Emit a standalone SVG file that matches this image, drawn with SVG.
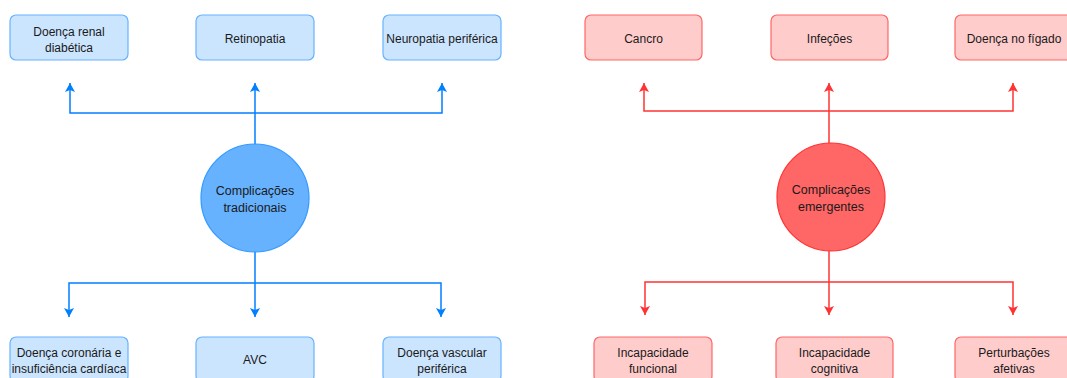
<svg xmlns="http://www.w3.org/2000/svg" width="1067" height="378" viewBox="0 0 1067 378">
<defs>
<style>
.bbox{fill:#cce5ff;stroke:#66b2ff;stroke-width:1.2}
.rbox{fill:#ffcccc;stroke:#ff6666;stroke-width:1.2}
.bc{fill:#66b2ff;stroke:#3399ff;stroke-width:1.2}
.rc{fill:#ff6666;stroke:#ff3333;stroke-width:1.2}
text{font-family:"Liberation Sans",Arial,sans-serif;font-size:12px;fill:#1a1a1a;text-anchor:middle}
.ct{font-size:12.5px}
.bl{fill:none;stroke:#007fff;stroke-width:1.5}
.rl{fill:none;stroke:#ff3333;stroke-width:1.5}
</style>
<marker id="ab" markerUnits="userSpaceOnUse" markerWidth="10" markerHeight="10" refX="9" refY="5" orient="auto" viewBox="0 0 10 10">
<path d="M0,0 L9,5 L0,10 L2,5 Z" fill="#007fff"/>
</marker>
<marker id="ar" markerUnits="userSpaceOnUse" markerWidth="10" markerHeight="10" refX="9" refY="5" orient="auto" viewBox="0 0 10 10">
<path d="M0,0 L9,5 L0,10 L2,5 Z" fill="#ff3333"/>
</marker>
</defs>
<rect width="1067" height="378" fill="#ffffff"/>
<g id="connectors">
<path class="bl" d="M255,144 V83" marker-end="url(#ab)"/>
<path class="bl" d="M255,113 H70 V83" marker-end="url(#ab)"/>
<path class="bl" d="M255,113 H442 V83" marker-end="url(#ab)"/>
<path class="bl" d="M255,252 V317" marker-end="url(#ab)"/>
<path class="bl" d="M255,283 H69 V317" marker-end="url(#ab)"/>
<path class="bl" d="M255,283 H441 V317" marker-end="url(#ab)"/>
<path class="rl" d="M829,144 V83" marker-end="url(#ar)"/>
<path class="rl" d="M829,111 H644 V83" marker-end="url(#ar)"/>
<path class="rl" d="M829,111 H1013 V83" marker-end="url(#ar)"/>
<path class="rl" d="M829,250 V315" marker-end="url(#ar)"/>
<path class="rl" d="M829,282 H645 V315" marker-end="url(#ar)"/>
<path class="rl" d="M829,282 H1013 V315" marker-end="url(#ar)"/>
</g>
<g id="c1"><circle class="bc" cx="255" cy="198" r="54"/><text class="ct" x="255" y="195">Complicações</text><text class="ct" x="255" y="212">tradicionais</text></g>
<g id="c2"><circle class="rc" cx="831" cy="197" r="54"/><text class="ct" x="831" y="194">Complicações</text><text class="ct" x="831" y="211">emergentes</text></g>
<g id="b1"><rect class="bbox" x="10" y="15" width="118" height="45" rx="6"/><text x="69" y="36">Doença renal</text><text x="69" y="52">diabética</text></g>
<g id="b2"><rect class="bbox" x="196" y="15" width="118" height="45" rx="6"/><text x="255" y="43">Retinopatia</text></g>
<g id="b3"><rect class="bbox" x="383" y="15" width="118" height="45" rx="6"/><text x="442" y="43">Neuropatia periférica</text></g>
<g id="b4"><rect class="bbox" x="10" y="337" width="118" height="45" rx="6"/><text x="69" y="357">Doença coronária e</text><text x="69" y="373">insuficiência cardíaca</text></g>
<g id="b5"><rect class="bbox" x="196" y="337" width="118" height="45" rx="6"/><text x="255" y="364">AVC</text></g>
<g id="b6"><rect class="bbox" x="383" y="337" width="118" height="45" rx="6"/><text x="442" y="357">Doença vascular</text><text x="442" y="373">periférica</text></g>
<g id="r1"><rect class="rbox" x="585" y="15" width="117" height="45" rx="6"/><text x="643.5" y="43">Cancro</text></g>
<g id="r2"><rect class="rbox" x="771" y="15" width="117" height="45" rx="6"/><text x="829.5" y="43">Infeções</text></g>
<g id="r3"><rect class="rbox" x="955" y="15" width="118" height="45" rx="6"/><text x="1014" y="43">Doença no fígado</text></g>
<g id="r4"><rect class="rbox" x="594" y="337" width="118" height="45" rx="6"/><text x="653" y="357">Incapacidade</text><text x="653" y="373">funcional</text></g>
<g id="r5"><rect class="rbox" x="776" y="337" width="117" height="45" rx="6"/><text x="834.5" y="357">Incapacidade</text><text x="834.5" y="373">cognitiva</text></g>
<g id="r6"><rect class="rbox" x="955" y="337" width="118" height="45" rx="6"/><text x="1014" y="357">Perturbações</text><text x="1014" y="373">afetivas</text></g>
</svg>
